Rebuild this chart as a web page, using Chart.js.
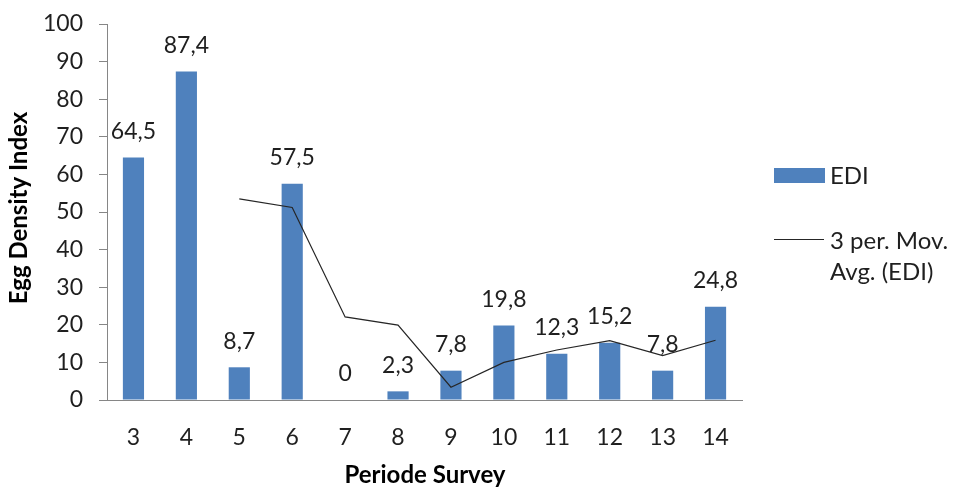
<!DOCTYPE html>
<html>
<head>
<meta charset="utf-8">
<script src="https://cdn.jsdelivr.net/npm/chart.js@4/dist/chart.umd.min.js"></script>
<style>
  html, body { margin: 0; padding: 0; background: #fff; }
  #wrap { width: 956px; height: 487px; }
</style>
</head>
<body>
<div id="wrap"><canvas id="c" width="956" height="487"></canvas></div>
<script>
// Survey periods on the x axis
const periods = ['3', '4', '5', '6', '7', '8', '9', '10', '11', '12', '13', '14'];
// Egg Density Index per survey period
const edi = [64.5, 87.4, 8.7, 57.5, 0, 2.3, 7.8, 19.8, 12.3, 15.2, 7.8, 24.8];
// 3-period moving average trend line of EDI
const movAvg = [null, null, 53.5, 51.2, 22.1, 19.9, 3.4, 10.0, 13.3, 15.8, 11.8, 15.9];
// y axis tick values
const yTicks = [0, 10, 20, 30, 40, 50, 60, 70, 80, 90, 100];

const FONT = 'Lato, "Liberation Sans", sans-serif';
const TEXT = '#1f1f1f';
const BLUE = '#4F81BD';
const AXIS = '#868686';

// value labels above each bar, with a decimal comma
const barLabels = {
  id: 'barLabels',
  afterDatasetsDraw(chart) {
    const ctx = chart.ctx;
    const meta = chart.getDatasetMeta(0);
    ctx.save();
    ctx.font = '23px ' + FONT;
    ctx.fillStyle = TEXT;
    ctx.textAlign = 'center';
    ctx.textBaseline = 'middle';
    meta.data.forEach((bar, i) => {
      const v = chart.data.datasets[0].data[i];
      ctx.fillText(String(v).replace('.', ','), bar.x, bar.y - 26);
    });
    ctx.restore();
  }
};

// axis titles and legend on the right
const decorations = {
  id: 'decorations',
  afterDraw(chart) {
    const ctx = chart.ctx;
    ctx.save();
    ctx.fillStyle = '#000';
    ctx.font = 'bold 24px ' + FONT;
    ctx.textAlign = 'center';
    ctx.textBaseline = 'middle';
    ctx.fillText('Periode Survey', 425, 475);
    ctx.save();
    ctx.translate(19, 208);
    ctx.rotate(-Math.PI / 2);
    ctx.fillText('Egg Density Index', 0, 0);
    ctx.restore();

    const ds = chart.data.datasets;
    ctx.font = '24px ' + FONT;
    ctx.textAlign = 'left';
    // bar series
    ctx.fillStyle = ds[0].backgroundColor;
    ctx.fillRect(774, 168, 51, 15);
    ctx.fillStyle = TEXT;
    ctx.fillText(ds[0].label, 830, 176);
    // trend line series
    ctx.strokeStyle = ds[1].borderColor;
    ctx.lineWidth = 1;
    ctx.beginPath();
    ctx.moveTo(774, 239.5);
    ctx.lineTo(824, 239.5);
    ctx.stroke();
    const lines = ds[1].label.split('\n');
    lines.forEach((t, k) => ctx.fillText(t, 830, 241 + k * 31));
    ctx.restore();
  }
};

new Chart(document.getElementById('c'), {
  data: {
    labels: periods,
    datasets: [
      {
        type: 'bar',
        label: 'EDI',
        data: edi,
        backgroundColor: BLUE,
        barPercentage: 0.4,
        categoryPercentage: 1.0,
        order: 1
      },
      {
        type: 'line',
        label: '3 per. Mov.\nAvg. (EDI)',
        data: movAvg,
        borderColor: '#262626',
        borderWidth: 1.2,
        pointRadius: 0,
        tension: 0,
        fill: false,
        order: 0
      }
    ]
  },
  options: {
    responsive: false,
    animation: false,
    devicePixelRatio: 1,
    layout: { padding: { left: 0, top: 24, right: 214, bottom: 0 } },
    plugins: {
      legend: { display: false },
      tooltip: { enabled: false }
    },
    scales: {
      x: {
        grid: { display: true, drawOnChartArea: false, drawTicks: false, color: AXIS },
        border: { color: AXIS, width: 1 },
        ticks: { color: TEXT, font: { family: FONT, size: 23 }, padding: 24 },
        afterFit(scale) { scale.height = 87; }
      },
      y: {
        min: 0,
        max: 100,
        afterBuildTicks(scale) { scale.ticks = yTicks.map(v => ({ value: v })); },
        grid: { display: true, drawOnChartArea: false, drawTicks: true, tickLength: 8, color: AXIS },
        border: { color: AXIS, width: 1 },
        ticks: { color: TEXT, font: { family: FONT, size: 23, lineHeight: 0.5 }, padding: 16 },
        afterFit(scale) { scale.width = 107; scale.paddingTop = 0; scale.paddingBottom = 0; }
      }
    }
  },
  plugins: [barLabels, decorations]
});
</script>
</body>
</html>
